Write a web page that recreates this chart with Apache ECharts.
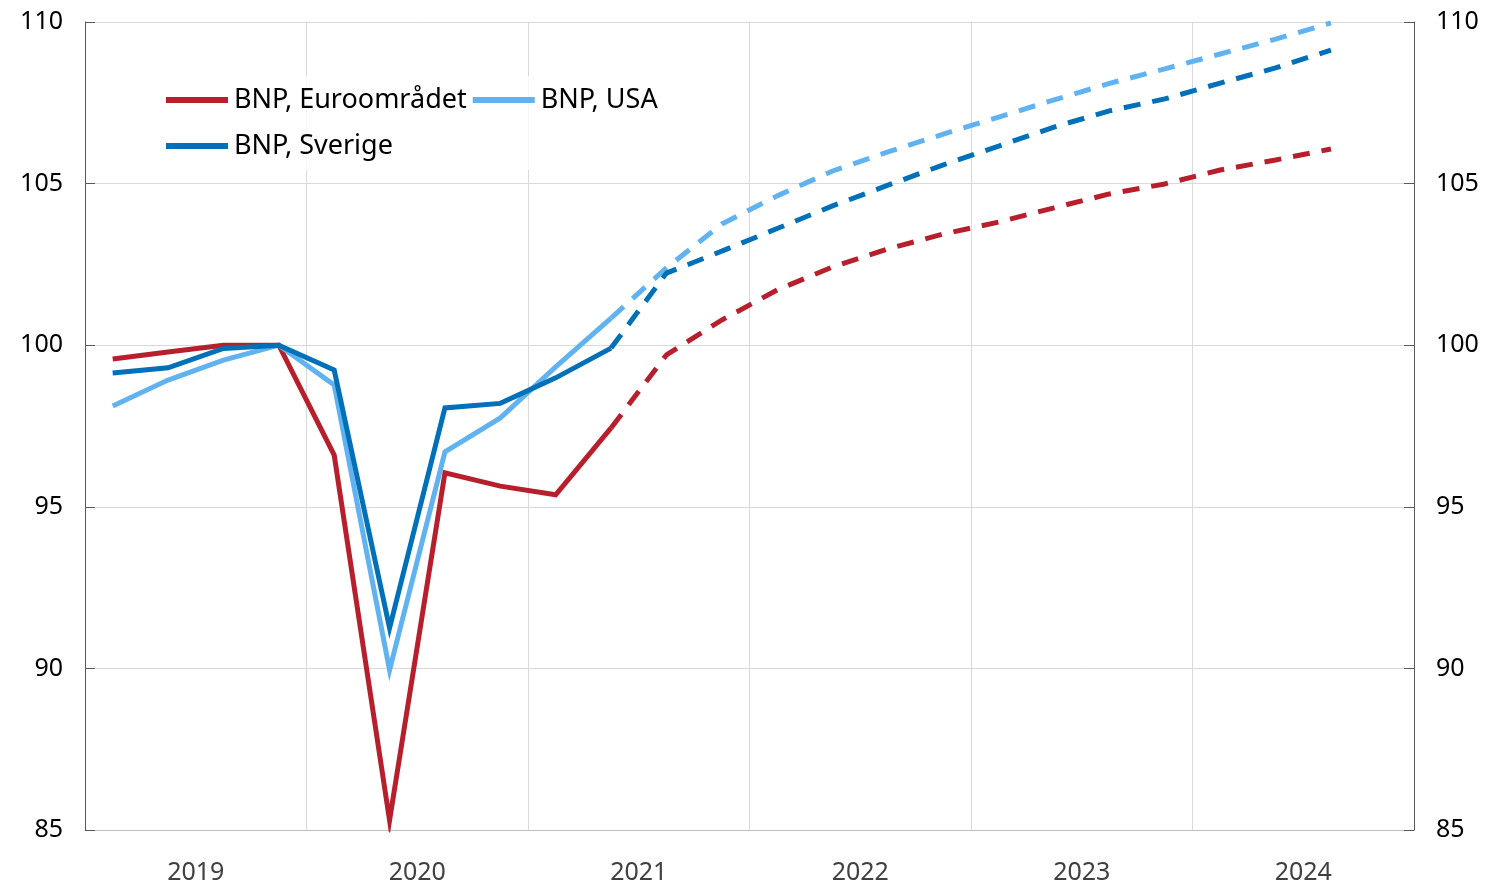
<!DOCTYPE html>
<html>
<head>
<meta charset="utf-8">
<title>BNP</title>
<script src="https://cdn.jsdelivr.net/npm/echarts@6/dist/echarts.min.js"></script>
<style>
  html, body { margin: 0; padding: 0; background: #fff; }
  #chart { width: 1491px; height: 885px; }
</style>
</head>
<body>
<div id="chart"></div>
<script>
// kvartal 2019K1 - 2024K4
const quarters = [];
for (let y = 2019; y <= 2024; y++) {
  for (let q = 1; q <= 4; q++) quarters.push(y + 'K' + q);
}
const years = ['2019', '2020', '2021', '2022', '2023', '2024'];
const yTicks = [85, 90, 95, 100, 105, 110];

// utfall (t.o.m. 2021K2)
const euroOutcome = [99.57, 99.79, 100.0, 100.0, 96.6, 85.3, 96.05, 95.64, 95.37, 97.44];
const usaOutcome = [98.12, 98.92, 99.54, 100.0, 98.77, 89.95, 96.7, 97.75, 99.33, 100.84];
const sweOutcome = [99.14, 99.3, 99.9, 100.0, 99.23, 91.25, 98.06, 98.2, 98.99, 99.91];

// prognos (från 2021K2)
const euroForecast = [97.44, 99.7, 100.78, 101.71, 102.42, 102.98, 103.44, 103.81, 104.25, 104.68, 104.99, 105.42, 105.73, 106.07];
const usaForecast = [100.84, 102.39, 103.75, 104.62, 105.39, 105.98, 106.53, 107.06, 107.59, 108.1, 108.55, 109.01, 109.47, 109.97];
const sweForecast = [99.91, 102.23, 102.91, 103.61, 104.31, 104.95, 105.58, 106.16, 106.75, 107.25, 107.62, 108.11, 108.58, 109.13];

const forecastStart = euroOutcome.length - 1;
const padForecast = arr => new Array(forecastStart).fill(null).concat(arr);

const RED = '#b81f2d';
const LIGHT = '#60b3f0';
const DARK = '#0070b8';
const FONT = '"Noto Sans", sans-serif';

const chart = echarts.init(document.getElementById('chart'));

const solid = (name, data, color) => ({
  name, type: 'line', data, xAxisIndex: 0, yAxisIndex: 0,
  showSymbol: false, symbol: 'none', silent: true,
  lineStyle: { width: 5, color, cap: 'butt', join: 'miter' },
  itemStyle: { color }
});
const dashed = (name, data, color) => ({
  name, type: 'line', data: padForecast(data), xAxisIndex: 0, yAxisIndex: 0,
  showSymbol: false, symbol: 'none', silent: true,
  lineStyle: { width: 5, color, type: [17, 12], cap: 'butt' },
  itemStyle: { color }
});

const yAxisBase = {
  type: 'value', min: yTicks[0], max: yTicks[yTicks.length - 1], interval: 5,
  axisLine: { show: true, lineStyle: { color: '#595959', width: 1 } },
  axisTick: { show: true, inside: true, length: 10, lineStyle: { color: '#595959' } },
  axisLabel: { fontSize: 25, color: '#000', fontFamily: FONT, margin: 22, padding: [4, 0, 0, 0] }
};

chart.setOption({
  animation: false,
  textStyle: { fontFamily: FONT },
  grid: { left: 85, right: 77, top: 22, bottom: 55, containLabel: false },
  legend: {
    data: ['BNP, Euroområdet', 'BNP, USA', 'BNP, Sverige'],
    left: 160, top: 76, width: 520,
    orient: 'horizontal',
    icon: 'rect', itemWidth: 62, itemHeight: 6, itemGap: 6,
    padding: [4, 6],
    backgroundColor: 'rgba(255,255,255,0.75)',
    textStyle: { fontSize: 27, lineHeight: 40, color: '#000', fontFamily: FONT, padding: [0, 0, 0, 1] }
  },
  xAxis: [
    {
      type: 'category', data: quarters, boundaryGap: true,
      axisLine: { show: true, lineStyle: { color: '#bfbfbf' } },
      axisTick: { show: false },
      axisLabel: { show: false },
      splitLine: { show: true, interval: 3, lineStyle: { color: '#d9d9d9', width: 1 } }
    },
    {
      type: 'category', data: years, boundaryGap: true, position: 'bottom',
      axisLine: { show: false }, axisTick: { show: false },
      axisLabel: { fontSize: 25, color: '#404040', fontFamily: FONT, margin: 30 },
      splitLine: { show: false }
    }
  ],
  yAxis: [
    Object.assign({}, yAxisBase, {
      position: 'left',
      splitLine: { show: true, lineStyle: { color: '#d9d9d9', width: 1 } }
    }),
    Object.assign({}, yAxisBase, {
      position: 'right',
      splitLine: { show: false }
    })
  ],
  series: [
    solid('BNP, Euroområdet', euroOutcome, RED),
    solid('BNP, USA', usaOutcome, LIGHT),
    solid('BNP, Sverige', sweOutcome, DARK),
    dashed('Euroområdet prognos', euroForecast, RED),
    dashed('USA prognos', usaForecast, LIGHT),
    dashed('Sverige prognos', sweForecast, DARK)
  ]
});
</script>
</body>
</html>
